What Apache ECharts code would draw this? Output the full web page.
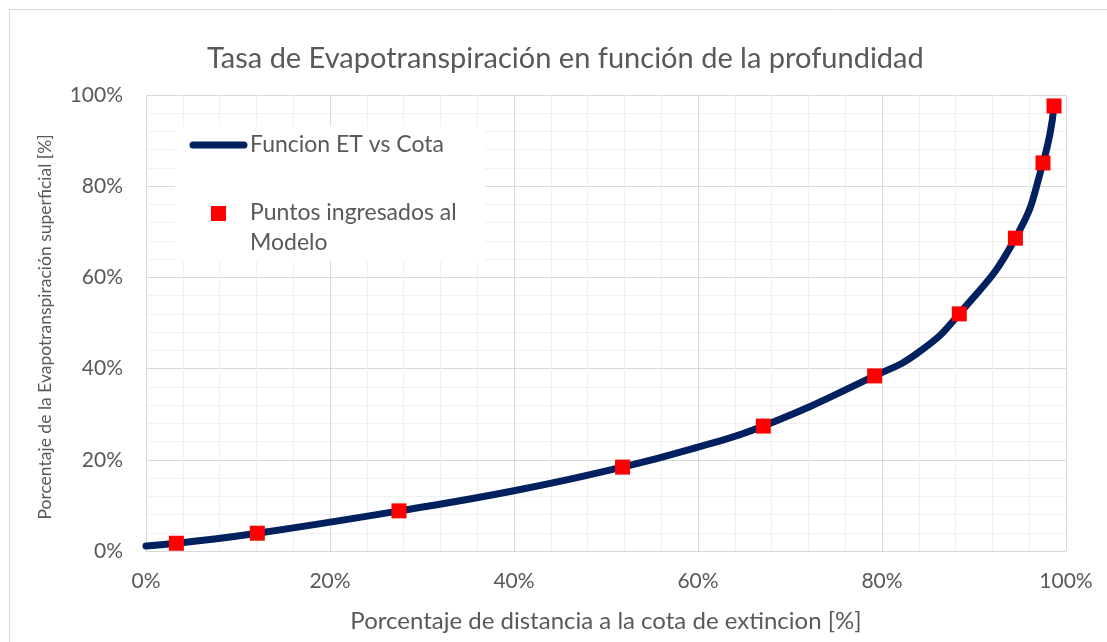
<!DOCTYPE html>
<html>
<head>
<meta charset="utf-8">
<script src="https://cdn.jsdelivr.net/npm/echarts@6/dist/echarts.min.js"></script>
<style>
  html, body { margin: 0; padding: 0; background: #fff; }
  #chart { width: 1107px; height: 642px; }
</style>
</head>
<body>
<div id="chart"></div>
<script>
// Curve: ET rate (%) vs. relative distance to the extinction depth (%)
const curveX = [0, 3.3, 12.1, 27.5, 40, 51.8, 60, 67.1, 79.2, 84, 88.4, 94.5, 97.5, 98.7];
const curveY = [1.1, 1.7, 3.9, 8.8, 13.2, 18.4, 22.8, 27.4, 38.4, 43.6, 52.0, 68.6, 85.1, 97.6];

// Points entered into the model
const pointsX = [3.3, 12.1, 27.5, 51.8, 67.1, 79.2, 88.4, 94.5, 97.5, 98.7];
const pointsY = [1.7, 3.9, 8.8, 18.4, 27.4, 38.4, 52.0, 68.6, 85.1, 97.6];

const seriesNames = ['Funcion ET vs Cota', 'Puntos ingresados al\nModelo'];
const titleText = 'Tasa de Evapotranspiración en función de la profundidad';
const xAxisTitle = 'Porcentaje de distancia a la cota de extincion [%]';
const yAxisTitle = 'Porcentaje de la Evapotranspiración superficial [%]';

const FONT = 'Lato';
const TEXT = '#595959';
const LINE_COLOR = '#002060';
const POINT_COLOR = '#ff0000';

const chart = echarts.init(document.getElementById('chart'), null, { renderer: 'canvas' });

function pairs(xs, ys) { return xs.map((x, i) => [x, ys[i]]); }

const axisCommon = {
  type: 'value',
  min: 0,
  max: 100,
  interval: 20,
  axisLine: { show: true, lineStyle: { color: '#d9d9d9', width: 1 } },
  axisTick: { show: false },
  axisLabel: { color: TEXT, fontFamily: FONT, fontSize: 21, formatter: '{value}%' },
  splitLine: { show: true, lineStyle: { color: '#d9d9d9', width: 1 } },
  minorTick: { show: false, splitNumber: 5 },
  minorSplitLine: { show: true, lineStyle: { color: '#f0f0f0', width: 1 } }
};

chart.setOption({
  backgroundColor: '#fff',
  animation: false,
  title: {
    text: titleText,
    left: 207,
    top: 44,
    padding: 0,
    textStyle: { color: TEXT, fontFamily: FONT, fontSize: 29, fontWeight: 'normal' }
  },
  grid: { left: 146, right: 41, top: 95, bottom: 91, containLabel: false },
  xAxis: Object.assign({}, axisCommon, {
    axisLabel: Object.assign({}, axisCommon.axisLabel, { margin: 20 }),
    name: xAxisTitle,
    nameLocation: 'middle',
    nameGap: 58,
    nameTextStyle: { color: TEXT, fontFamily: FONT, fontSize: 24 }
  }),
  yAxis: Object.assign({}, axisCommon, {
    axisLabel: Object.assign({}, axisCommon.axisLabel, { margin: 23 })
  }),
  series: [
    {
      name: seriesNames[0],
      type: 'line',
      data: pairs(curveX, curveY),
      showSymbol: false,
      symbol: 'none',
      smooth: 0.5,
      lineStyle: { color: LINE_COLOR, width: 7, cap: 'round' },
      z: 2
    },
    {
      name: seriesNames[1],
      type: 'scatter',
      data: pairs(pointsX, pointsY),
      symbol: 'rect',
      symbolSize: 15,
      itemStyle: { color: POINT_COLOR, opacity: 1 },
      z: 3
    }
  ],
  graphic: [
    // outer chart frame
    { type: 'rect', shape: { x: 9.5, y: 9.5, width: 1200, height: 800 },
      style: { fill: 'none', stroke: '#d9d9d9', lineWidth: 1 }, z: -1, silent: true },
    // vertical axis title
    { type: 'text', x: 45, y: 327, rotation: Math.PI / 2, z: 50,
      style: { text: yAxisTitle, fill: TEXT, font: '17.5px ' + FONT, textAlign: 'center', textVerticalAlign: 'middle' } },
    // legend box
    { type: 'rect', z: 100, shape: { x: 175, y: 126, width: 310, height: 135 }, style: { fill: '#fff' } },
    { type: 'line', z: 101, shape: { x1: 193, y1: 145, x2: 244, y2: 145 },
      style: { stroke: LINE_COLOR, lineWidth: 7, lineCap: 'round' } },
    { type: 'text', z: 101, x: 250, y: 145,
      style: { text: seriesNames[0], fill: TEXT, font: '23px ' + FONT, textVerticalAlign: 'middle' } },
    { type: 'rect', z: 101, shape: { x: 211, y: 206, width: 15, height: 15 }, style: { fill: POINT_COLOR } },
    { type: 'text', z: 101, x: 250, y: 198,
      style: { text: seriesNames[1], fill: TEXT, font: '23px ' + FONT, lineHeight: 30, textVerticalAlign: 'top' } }
  ]
});
</script>
</body>
</html>
